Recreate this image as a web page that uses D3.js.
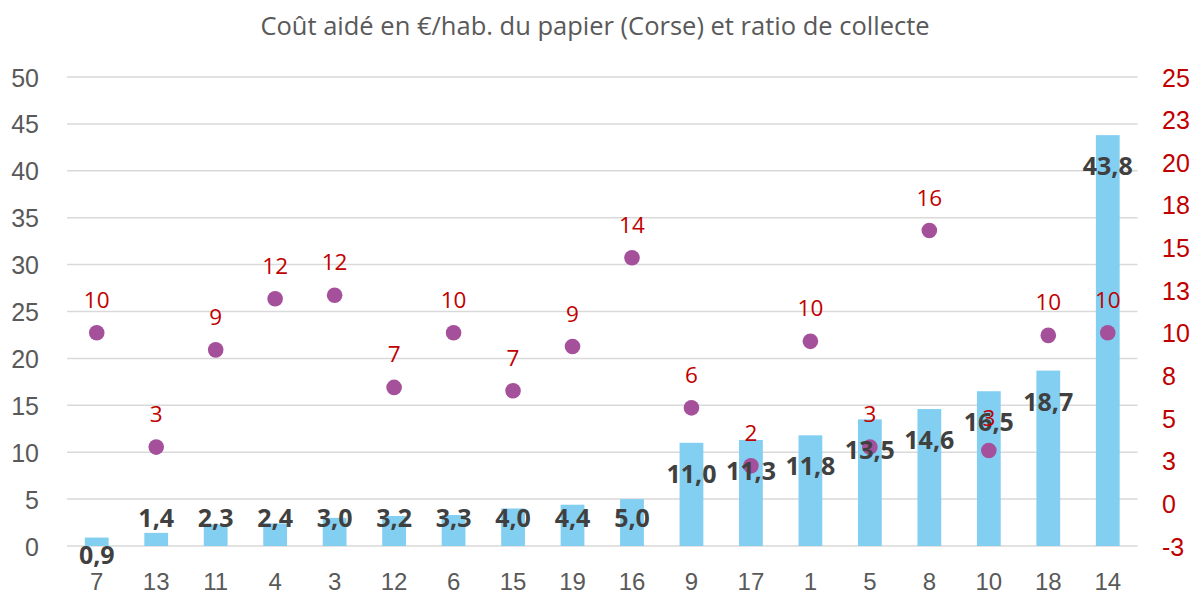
<!DOCTYPE html>
<html>
<head>
<meta charset="utf-8">
<script src="https://cdnjs.cloudflare.com/ajax/libs/d3/7.8.5/d3.min.js"></script>
<style>
  body { margin: 0; background: #fff; }
  svg { font-family: "Open Sans", "Noto Sans", sans-serif; }
  .axis text { fill: #595959; font-size: 25px; }
  .axis.right text { fill: #C00000; }
  .axis.bottom text { font-size: 24px; }
  .barLabel { fill: #404040; font-size: 25px; font-weight: bold; }
  .dotLabel { fill: #C00000; font-size: 22.5px; }
</style>
</head>
<body>
<svg></svg>
<script>
var categories = ["7","13","11","4","3","12","6","15","19","16","9","17","1","5","8","10","18","14"];
var coutAide = [0.9,1.4,2.3,2.4,3.0,3.2,3.3,4.0,4.4,5.0,11.0,11.3,11.8,13.5,14.6,16.5,18.7,43.8];
var ratioCollecte = [10.0,3.3,9.0,12.0,12.2,6.8,10.0,6.6,9.2,14.4,5.6,2.2,9.5,3.3,16.0,3.1,9.85,10.0];
var leftTicks = [0,5,10,15,20,25,30,35,40,45,50];
var rightTicks = [-2.5,0,2.5,5,7.5,10,12.5,15,17.5,20,22.5,25];
var title = "Coût aidé en €/hab. du papier (Corse) et ratio de collecte";

var w = 1193,
    h = 594;

var padding = {
  top: 77,
  bottom: 48,
  left: 67,
  right: 55.5
};

var svg = d3.select("svg")
  .attr("width", w)
  .attr("height", h);

var xscale = d3.scaleBand()
  .domain(categories)
  .range([padding.left, w - padding.right])
  .paddingInner(0.6)
  .paddingOuter(0.3);

var yLeft = d3.scaleLinear()
  .domain([0, 50])
  .range([h - padding.bottom, padding.top]);

var yRight = d3.scaleLinear()
  .domain([-2.5, 25])
  .range([h - padding.bottom, padding.top]);

// title
svg.append("text")
  .attr("x", 595)
  .attr("y", 35)
  .attr("text-anchor", "middle")
  .attr("fill", "#595959")
  .style("font-size", "25.5px")
  .text(title);

// grid lines
svg.append("g")
  .selectAll("line")
  .data(leftTicks)
  .enter()
  .append("line")
  .attr("x1", padding.left)
  .attr("x2", w - padding.right)
  .attr("y1", function(d){ return yLeft(d); })
  .attr("y2", function(d){ return yLeft(d); })
  .attr("stroke", "#D9D9D9")
  .attr("stroke-width", 1.5);

// left axis
var leftAxis = svg.append("g").attr("class", "axis left")
  .attr("transform", "translate(39,0)")
  .call(d3.axisLeft(yLeft).tickValues(leftTicks).tickSize(0).tickPadding(0));
leftAxis.select(".domain").remove();
leftAxis.selectAll("text").attr("dy", "0.36em");

// right axis
var rightAxis = svg.append("g").attr("class", "axis right")
  .attr("transform", "translate(1162,0)")
  .call(d3.axisRight(yRight).tickValues(rightTicks).tickSize(0).tickPadding(0)
    .tickFormat(function(d){ return d.toFixed(0); }));
rightAxis.select(".domain").remove();
rightAxis.selectAll("text").attr("dy", "0.36em");

// x axis
var xAxis = svg.append("g").attr("class", "axis bottom")
  .attr("transform", "translate(0," + (h - padding.bottom) + ")")
  .call(d3.axisBottom(xscale).tickSize(0).tickPadding(0));
xAxis.select(".domain").remove();
xAxis.selectAll("text").attr("y", 35).attr("dy", "0.36em");

// bars
svg.append("g")
  .selectAll("rect")
  .data(coutAide)
  .enter()
  .append("rect")
  .attr("x", function(d, i){ return xscale(categories[i]); })
  .attr("y", function(d){ return yLeft(d); })
  .attr("width", xscale.bandwidth())
  .attr("height", function(d){ return yLeft(0) - yLeft(d); })
  .attr("fill", "#82CFF2");

// dots
svg.append("g")
  .selectAll("circle")
  .data(ratioCollecte)
  .enter()
  .append("circle")
  .attr("cx", function(d, i){ return xscale(categories[i]) + xscale.bandwidth() / 2; })
  .attr("cy", function(d){ return yRight(d); })
  .attr("r", 7.8)
  .attr("fill", "#A5509B");

// bar labels
svg.append("g")
  .selectAll("text")
  .data(coutAide)
  .enter()
  .append("text")
  .attr("class", "barLabel")
  .attr("text-anchor", "middle")
  .attr("dy", "0.36em")
  .attr("x", function(d, i){ return xscale(categories[i]) + xscale.bandwidth() / 2; })
  .attr("y", function(d){
    if (d < 1) return yLeft(0) + 9;
    return Math.min(yLeft(d) + 31, yLeft(0) - 28);
  })
  .text(function(d){ return d.toFixed(1).replace(".", ","); });

// dot labels
svg.append("g")
  .selectAll("text")
  .data(ratioCollecte)
  .enter()
  .append("text")
  .attr("class", "dotLabel")
  .attr("text-anchor", "middle")
  .attr("dy", "0.36em")
  .attr("x", function(d, i){ return xscale(categories[i]) + xscale.bandwidth() / 2; })
  .attr("y", function(d){ return yRight(d) - 33; })
  .text(function(d){ return d.toFixed(0); });
</script>
</body>
</html>
